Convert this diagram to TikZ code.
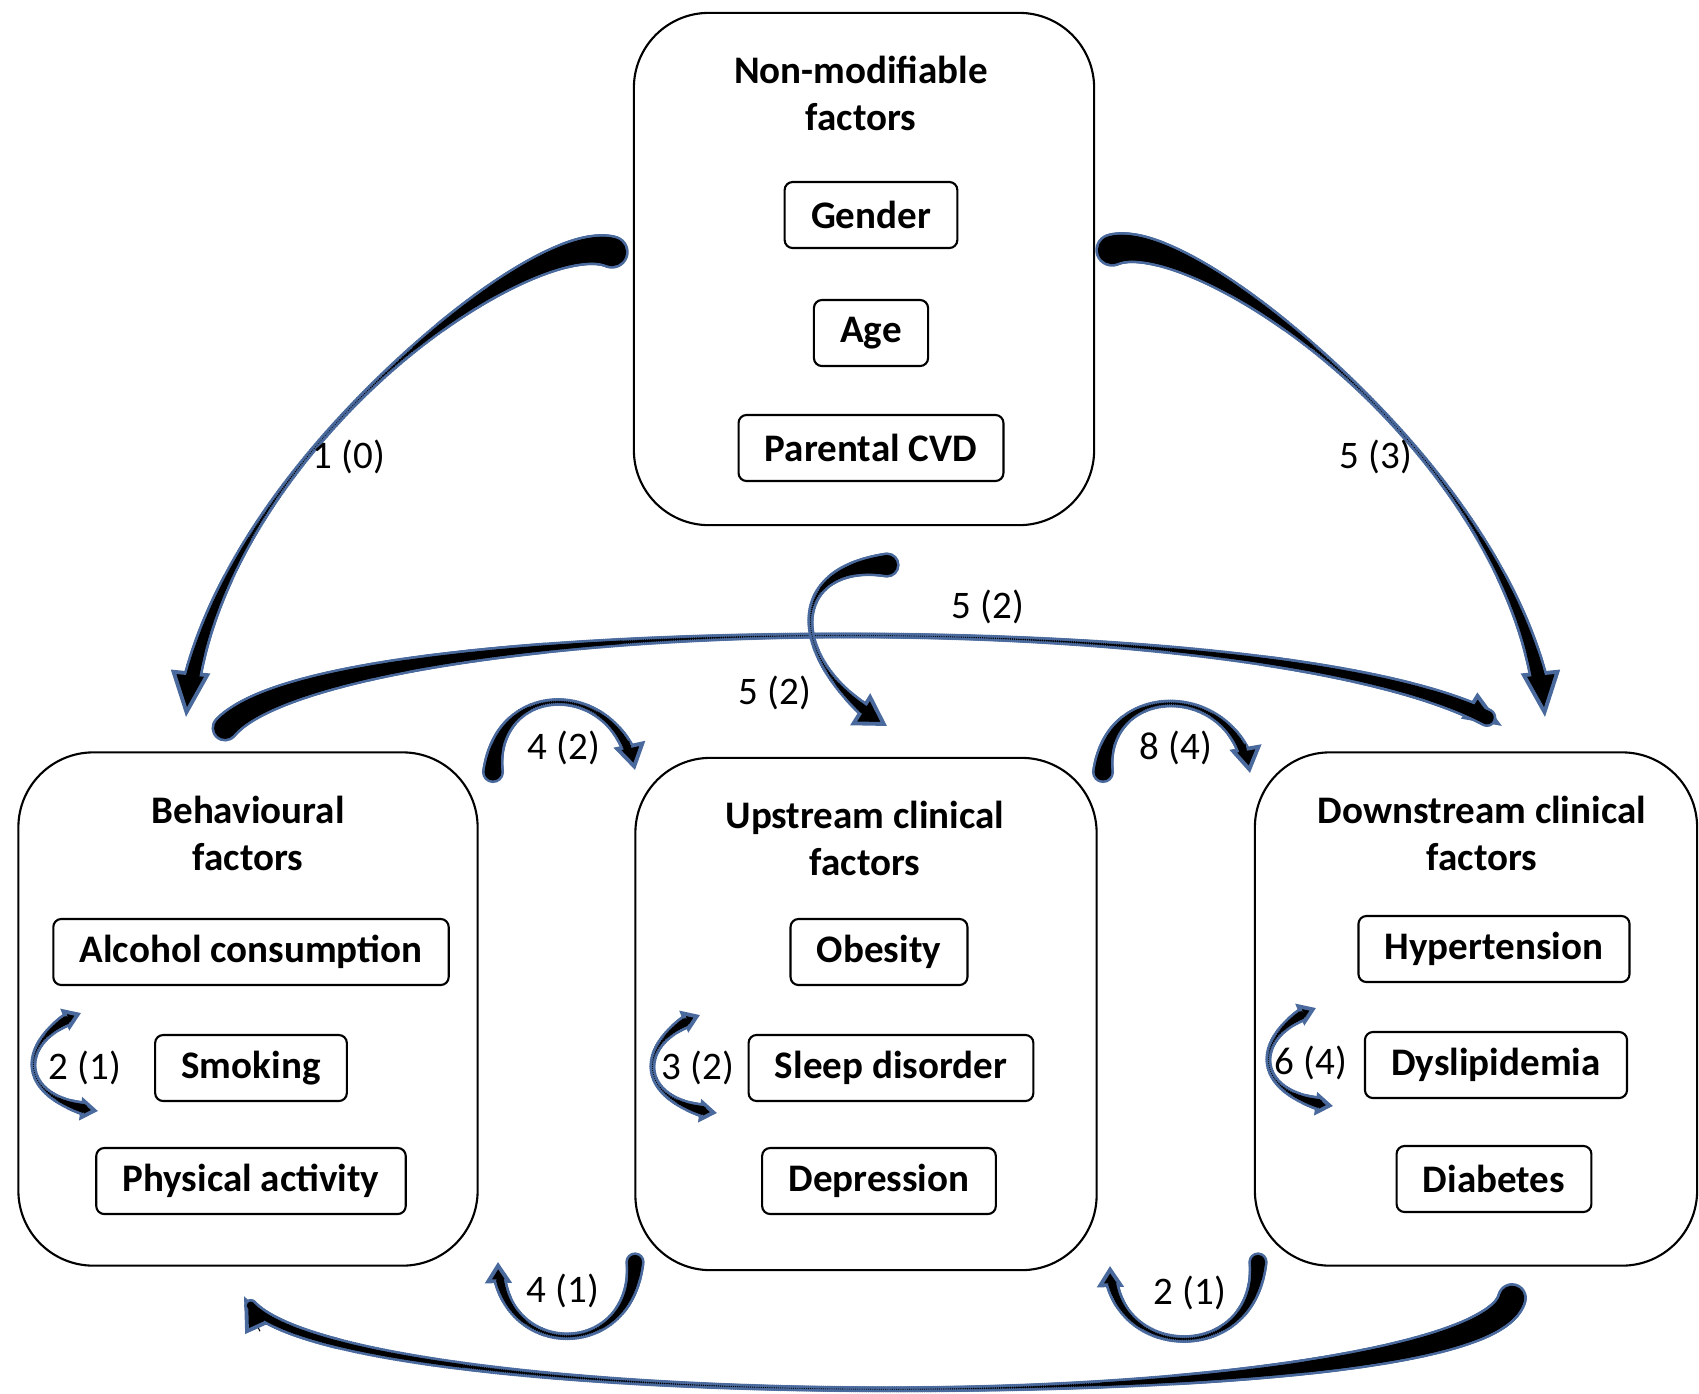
\documentclass[tikz,border=0pt]{standalone}
\usepackage{fontspec}
\setmainfont{Carlito}
\usepackage{tikz}
\usetikzlibrary{positioning,calc,arrows.meta,decorations.markings}
\usepackage{xcolor}

\definecolor{rimblue}{RGB}{74,106,158}
\newcommand\figfont{\fontsize{11.1pt}{13.4pt}\selectfont}

% tapered curved arrows: widths in pt (start/end/middle), head length/width in pt
\def\thboth{0}
\newcommand\taperdot[2]{%
  \pgfmathsetmacro\tdist{\pgfkeysvalueof{/pgf/decoration/mark info/distance from start}}%
  \pgfmathsetmacro\tpos{\tdist/\pgfdecoratedpathlength}%
  \pgfmathsetmacro\trad{0.5*(\tpos<0.5 ? \twmid+(\twstart-\twmid)*(1-2*\tpos)*(1-2*\tpos) : \twmid+(\twend-\twmid)*(2*\tpos-1)*(2*\tpos-1))}%
  \pgfmathtruncatemacro\tshow{and(\tdist<\pgfdecoratedpathlength-0.85*\thlen, or(\thboth==0, \tdist>0.85*\thlen))}%
  \ifnum\tshow=1 \fill[#2] (0pt,0pt) circle[radius={(\trad+#1)*1pt}];\fi
}
% #1 options, #2 start, #3 control 1, #4 control 2, #5 end
\newcommand\taperarrow[5]{%
  \begin{scope}[#1]
  \path[bluedots] (#2) .. controls (#3) and (#4) .. (#5);
  \draw[tiponly] ($(#5)!{\thlen*1pt+1pt}!(#4)$) -- (#5);
  \path[blackdots] (#2) .. controls (#3) and (#4) .. (#5);
  \end{scope}
}
\newcommand\taperloop[5]{%
  \begin{scope}[twoheads, #1]
  \path[bluedots] (#2) .. controls (#3) and (#4) .. (#5);
  \draw[tiponly] ($(#5)!{\thlen*1pt+1pt}!(#4)$) -- (#5);
  \draw[tiponly] ($(#2)!{\thlen*1pt+1pt}!(#3)$) -- (#2);
  \path[blackdots] (#2) .. controls (#3) and (#4) .. (#5);
  \end{scope}
}

\begin{document}
\begin{tikzpicture}[
    x=0.01cm, y=-0.01cm,
    font=\figfont,
    group/.style={draw, line width=0.6pt, rounded corners=0.75cm},
    factor/.style={draw, line width=0.6pt, rounded corners=0.08cm, font=\figfont\bfseries,
        inner xsep=7.5pt, minimum height=0.66cm},
    title/.style={font=\figfont\bfseries, align=center},
    count/.style={font=\figfont},
    tw/.code args={#1/#2/#3}{\def\twstart{#1}\def\twend{#2}\def\twmid{#3}},
    th/.code args={#1/#2}{\def\thlen{#1}\def\thwid{#2}},
    twoheads/.code={\def\thboth{1}},
    tiponly/.style={black, line width=0.3pt,
        -{Triangle[length=\thlen pt, width=\thwid pt, fill=black, color=rimblue, line width=1.1pt]}},
    bluedots/.style={decorate, decoration={markings,
        mark=between positions 0 and 1 step 0.6pt with {\taperdot{0.75}{rimblue}}}},
    blackdots/.style={decorate, decoration={markings,
        mark=between positions 0 and 1 step 0.6pt with {\taperdot{0}{black}}}}
]
\useasboundingbox (0,0) rectangle (1699,1393);

% ----- Non-modifiable factors -----
\node[group, minimum width=4.6cm, minimum height=5.12cm] (nonmod) at (864,269) {};
\node[title] (nonmodT) at (861,93) {Non-modifiable\\factors};
\node[factor] (gender) at (871,215) {Gender};
\node[factor] (age) at (871,333) {Age};
\node[factor] (parcvd) at (871,448) {Parental CVD};

% ----- Behavioural factors -----
\node[group, minimum width=4.59cm, minimum height=5.13cm] (behav) at (248,1009) {};
\node[title] (behavT) at (248,833) {Behavioural\\factors};
\node[factor] (alcohol) at (251,952) {Alcohol consumption};
\node[factor] (smoking) at (251,1068) {Smoking};
\node[factor] (physact) at (251,1181) {Physical activity};

% ----- Upstream clinical factors -----
\node[group, minimum width=4.61cm, minimum height=5.12cm] (upstream) at (866,1014) {};
\node[title] (upstreamT) at (865,838) {Upstream clinical\\factors};
\node[factor] (obesity) at (879,952) {Obesity};
\node[factor] (sleep) at (891,1068) {Sleep disorder};
\node[factor] (depress) at (879,1181) {Depression};

% ----- Downstream clinical factors -----
\node[group, minimum width=4.42cm, minimum height=5.13cm] (downstream) at (1476,1009) {};
\node[title] (downstreamT) at (1482,833) {Downstream clinical\\factors};
\node[factor] (hypert) at (1494,949) {Hypertension};
\node[factor] (dyslip) at (1496,1065) {Dyslipidemia};
\node[factor] (diabetes) at (1494,1179) {Diabetes};

% ----- Arrow ends -----
\coordinate (nmL) at (612,252);   \coordinate (bhTop) at (186,717);
\coordinate (nmR) at (1112,250);  \coordinate (dsTop) at (1545,717);
\coordinate (bhUp) at (225,728);  \coordinate (dsIn) at (1502,726);
\coordinate (nmB) at (887,565);   \coordinate (usTop) at (887,726);
\coordinate (bhR) at (493,772);   \coordinate (usL) at (635,770);
\coordinate (usR) at (1103,772);  \coordinate (dsL) at (1250,773);
\coordinate (usBL) at (635,1262); \coordinate (bhBR) at (498,1262);
\coordinate (dsBL) at (1258,1262);\coordinate (usBR) at (1110,1266);
\coordinate (dsB) at (1512,1298); \coordinate (bhB) at (244,1296);

% ----- Connections -----
\taperarrow{tw=8/5/0.3, th=13/11}{nmL}{532,224}{211,467}{bhTop}
\taperarrow{tw=8/5/0.3, th=13/11}{nmR}{1192,222}{1520,467}{dsTop}
\taperarrow{tw=6.2/4.3/0.3, th=11/8.5}{bhUp}{330,610}{1300,600}{dsIn}
\taperarrow{tw=5.7/4.3/0.3, th=9/10.5}{nmB}{785,565}{785,662}{usTop}
\taperarrow{tw=4.8/3.4/0.8, th=7.5/9}{bhR}{495,680}{615,678}{usL}
\taperarrow{tw=4.8/3.4/0.8, th=7.5/9}{usR}{1105,680}{1234,681}{dsL}
\taperarrow{tw=4/3/0.8, th=6/7.5}{usBL}{633,1362}{500,1360}{bhBR}
\taperarrow{tw=4/3/0.8, th=6/7.5}{dsBL}{1256,1366}{1112,1362}{usBR}
\taperarrow{tw=7/2.5/0.3, th=10/8}{dsB}{1480,1420}{300,1420}{bhB}

% ----- Loops within groups -----
\foreach \n/\x/\y in {bh/0/0, us/619/2, ds/1235/-5}{
    \coordinate (\n LoopA) at (81+\x,1013+\y);
    \coordinate (\n LoopB) at (98+\x,1111+\y);
    \taperloop{tw=3.8/3.8/0.3, th=5/6.5}{\n LoopA}{15+\x,1040+\y}{15+\x,1100+\y}{\n LoopB}
}

% ----- Counts -----
\node[count] (c10) at (349,457) {1 (0)};
\node[count] (c53) at (1376,457) {5 (3)};
\node[count] (c52a) at (988,607) {5 (2)};
\node[count] (c52b) at (775,693) {5 (2)};
\node[count] (c42) at (564,748) {4 (2)};
\node[count] (c84) at (1176,748) {8 (4)};
\node[count] (c41) at (563,1291) {4 (1)};
\node[count] (c21) at (1190,1293) {2 (1)};
\node[count] (c21b) at (85,1068) {2 (1)};
\node[count] (c32) at (698,1068) {3 (2)};
\node[count] (c64) at (1311,1063) {6 (4)};

\end{tikzpicture}
\end{document}
